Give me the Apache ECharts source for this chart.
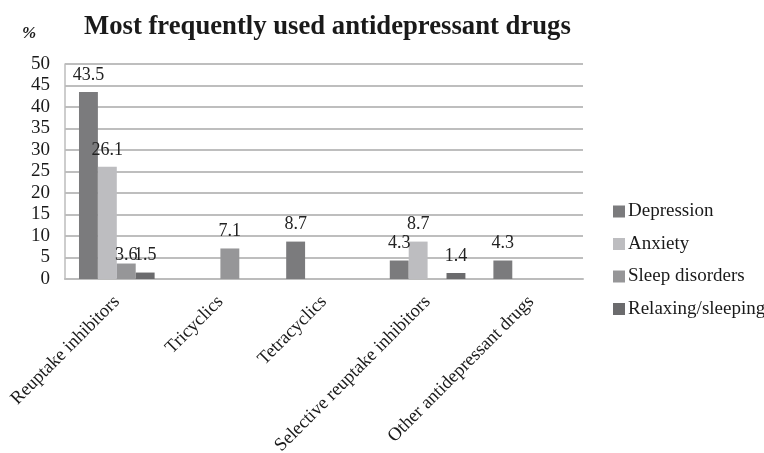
<!DOCTYPE html>
<html>
<head>
<meta charset="utf-8">
<script src="https://cdn.jsdelivr.net/npm/echarts@6/dist/echarts.min.js"></script>
<style>html,body{margin:0;padding:0;background:#fff;}#c{width:764px;height:453px;}</style>
</head>
<body>
<div id="c"></div>
<script>
var categories = ['Reuptake inhibitors', 'Tricyclics', 'Tetracyclics', 'Selective reuptake inhibitors', 'Other antidepressant drugs'];
var seriesNames = ['Depression', 'Anxiety', 'Sleep disorders', 'Relaxing/sleeping'];
var depression = [43.5, null, 8.7, 4.3, 4.3];
var anxiety = [26.1, null, null, 8.7, null];
var sleepDisorders = [3.6, 7.1, null, null, null];
var relaxing = [1.5, null, null, 1.4, null];
var yTicks = [0, 5, 10, 15, 20, 25, 30, 35, 40, 45, 50];

var colors = ['#7b7b7d', '#bdbdc0', '#969698', '#6b6b6d'];
var font = '"Liberation Serif", "Times New Roman", serif';
var chart = echarts.init(document.getElementById('c'));
function mk(name, data, color, lowered) {
  var d = data.map(function (v, i) {
    if (lowered && lowered.indexOf(i) >= 0) return { value: v, label: { distance: -1 } };
    return v;
  });
  return {
    name: name, type: 'bar', data: d, barGap: '0%', barCategoryGap: '27%',
    itemStyle: { color: color },
    label: { show: true, position: 'top', distance: 8, fontFamily: font, fontSize: 18, color: '#222',
      formatter: function (p) { return p.value == null ? '' : p.value.toFixed(1); } }
  };
}
chart.setOption({
  animation: false,
  title: [
    { text: 'Most frequently used antidepressant drugs', left: 84, top: 14, padding: 0,
      textStyle: { fontFamily: font, fontSize: 26.7, fontWeight: 'bold', color: '#1a1a1a' } },
    { text: '%', left: 22, top: 25, padding: 0,
      textStyle: { fontFamily: font, fontSize: 17, fontWeight: 'bold', fontStyle: 'italic', color: '#1a1a1a' } }
  ],
  legend: {
    orient: 'vertical', left: 608, top: 197, itemWidth: 12, itemHeight: 12, itemGap: 13.5,
    icon: 'rect', data: seriesNames,
    textStyle: { fontFamily: font, fontSize: 19, color: '#1a1a1a', padding: [0, 0, 0, -2] }
  },
  grid: { left: 65, right: 181, top: 64, bottom: 174, containLabel: false, outerBoundsMode: 'none' },
  xAxis: {
    type: 'category', data: categories,
    axisLine: { lineStyle: { color: '#bcbcbc', width: 2 } },
    axisTick: { show: false },
    axisLabel: { interval: 0, rotate: 45, fontFamily: font, fontSize: 18.5, color: '#1a1a1a', margin: 20 }
  },
  yAxis: {
    type: 'value', min: 0, max: 50, interval: 5,
    axisLine: { show: true, lineStyle: { color: '#bcbcbc', width: 1.5 } },
    axisTick: { show: false },
    splitLine: { lineStyle: { color: '#a9a9a9', width: 1.5 } },
    axisLabel: { fontFamily: font, fontSize: 19, color: '#1a1a1a', margin: 15,
      formatter: function (v) { return yTicks.indexOf(v) >= 0 ? String(v) : ''; } }
  },
  series: [
    mk(seriesNames[0], depression, colors[0]),
    mk(seriesNames[1], anxiety, colors[1]),
    mk(seriesNames[2], sleepDisorders, colors[2], [0]),
    mk(seriesNames[3], relaxing, colors[3])
  ]
});
</script>
</body>
</html>
